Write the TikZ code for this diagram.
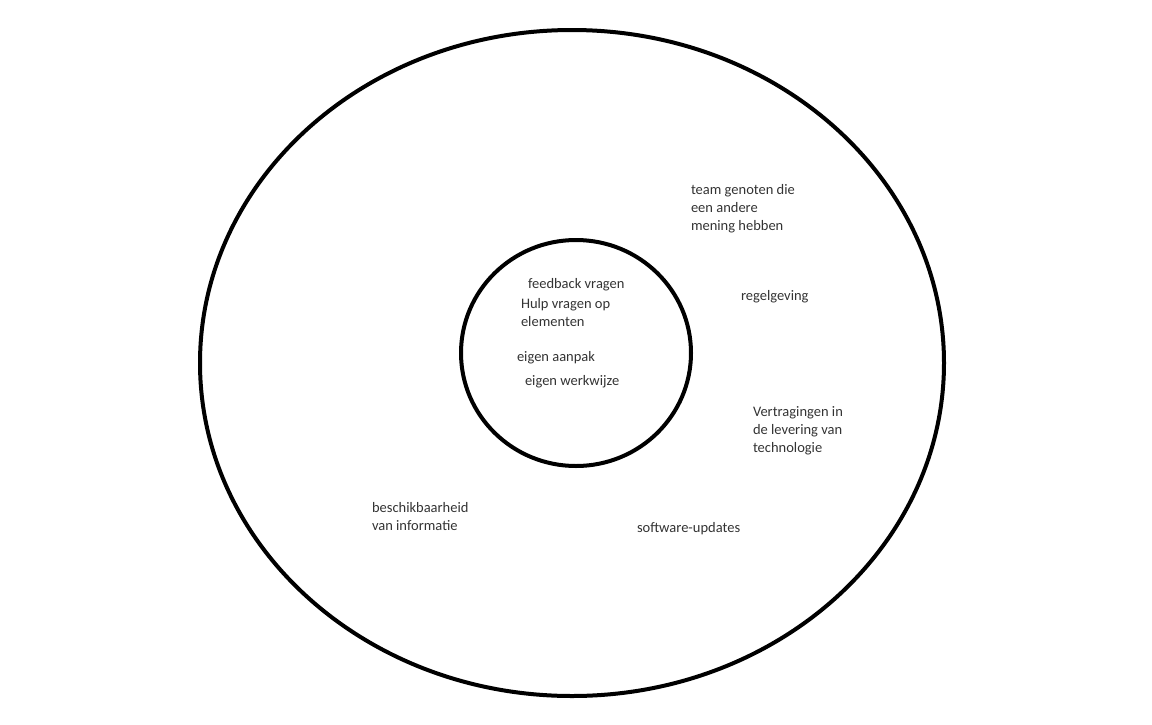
\documentclass[tikz,border=0pt]{standalone}
\usepackage{fontspec}
\setmainfont{Carlito}
\begin{document}
\begin{tikzpicture}[x=1pt,y=-1pt,
  ring/.style={draw=black,line width=4pt},
  lbl/.style={anchor=base west,inner sep=0pt,outer sep=0pt,text=black!80,
    font=\fontsize{14.5}{18}\selectfont,align=left}]
\useasboundingbox (0,0) rectangle (1152,724);
\draw[ring] (572,363) ellipse [x radius=372, y radius=333];
\draw[ring] (576,353) ellipse [x radius=115, y radius=113];
\node[lbl] (t1) at (691,230) {team genoten die\\een andere\\mening hebben};
\node[lbl] (t2) at (741,300) {regelgeving};
\node[lbl] (t3) at (528,288) {feedback vragen};
\node[lbl] (t4) at (521,326) {Hulp vragen op\\elementen};
\node[lbl] (t5) at (517,361) {eigen aanpak};
\node[lbl] (t6) at (525,385) {eigen werkwijze};
\node[lbl] (t7) at (753,452) {Vertragingen in\\de levering van\\technologie};
\node[lbl] (t8) at (372,530) {beschikbaarheid\\van informatie};
\node[lbl] (t9) at (637,532) {software-updates};
\end{tikzpicture}
\end{document}
